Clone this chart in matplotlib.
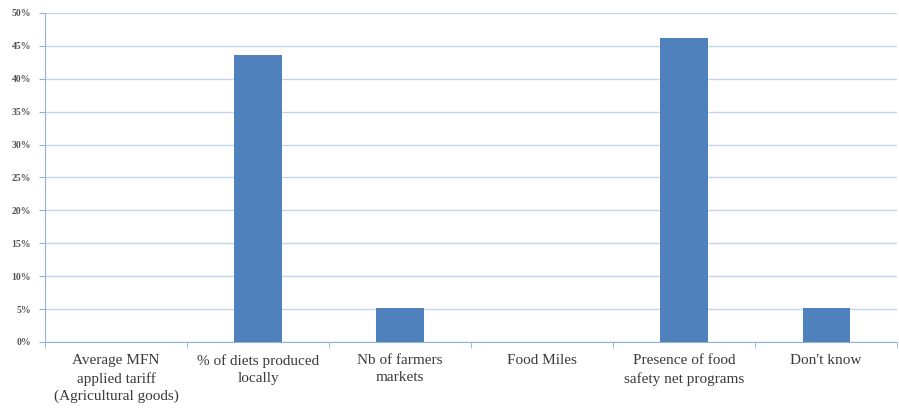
import numpy as np
import matplotlib
matplotlib.use("Agg")
import matplotlib.pyplot as plt
from matplotlib.ticker import MultipleLocator, FuncFormatter

# Data
categories = ["Average MFN\napplied tariff\n(Agricultural goods)",
              "% of diets produced\nlocally",
              "Nb of farmers\nmarkets",
              "Food Miles",
              "Presence of food\nsafety net programs",
              "Don't know"]
shares = [0.0, 43.6, 5.1, 0.0, 46.2, 5.1]

bar_color = "#4F81BD"
grid_color = "#C3D6E6"
axis_color = "#8FB3D6"
text_color = "#3A3A3A"

fig = plt.figure(figsize=(8.99, 4.18), dpi=100)
ax = fig.add_axes([0.050, 0.182, 0.948, 0.787])

x = np.arange(len(categories))
ax.bar(x, shares, width=1/3, color=bar_color, zorder=3)

ax.set_xlim(-0.5, len(categories) - 0.5)
ax.set_ylim(0, 50)
ax.yaxis.set_major_locator(MultipleLocator(5))
ax.yaxis.set_major_formatter(FuncFormatter(lambda v, p: f"{v:.0f}%"))
ax.grid(axis="y", color=grid_color, linewidth=1, zorder=0)

# category labels centred, tick marks at the boundaries
ax.set_xticks(x)
ax.set_xticklabels(categories, fontfamily="Liberation Serif", fontsize=11,
                   color=text_color, linespacing=1.4)
ax.tick_params(axis="x", length=0, pad=9)
ax.set_xticks(np.arange(len(categories) + 1) - 0.5, minor=True)
ax.tick_params(axis="x", which="minor", length=4, color=axis_color, direction="out")

for lab in ax.get_yticklabels():
    lab.set_fontfamily("Liberation Serif")
    lab.set_fontweight("bold")
ax.tick_params(axis="y", labelsize=7, colors="#555555", length=4, pad=6)
ax.tick_params(axis="y", color=axis_color)

for s in ["top", "right"]:
    ax.spines[s].set_visible(False)
ax.spines["left"].set_color(axis_color)
ax.spines["bottom"].set_color(axis_color)

plt.savefig("out.png", dpi=100)
